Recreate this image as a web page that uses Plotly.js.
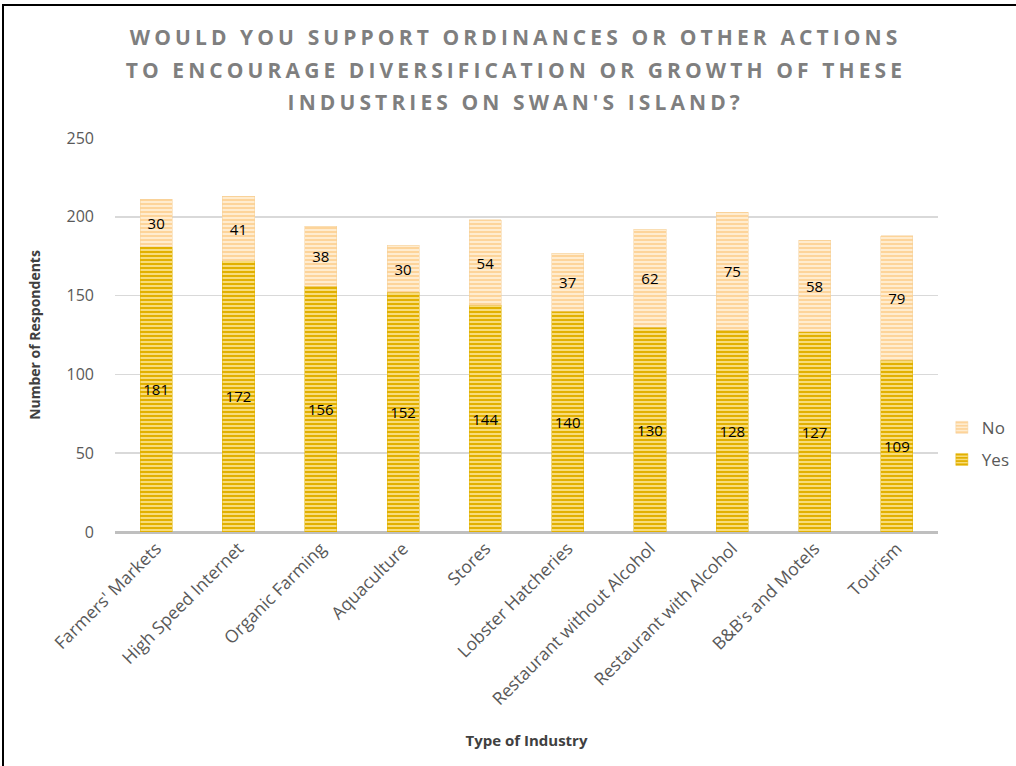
<!DOCTYPE html>
<html>
<head>
<meta charset="utf-8">
<script src="https://cdn.plot.ly/plotly-3.0.1.min.js"></script>
<style>
html,body{margin:0;padding:0;background:#fff;overflow:hidden;}
#chart{width:1016px;height:766px;}
#frame{position:absolute;left:2px;top:4px;width:1030px;height:780px;border:2px solid #000;pointer-events:none;}
#chart .annotation-text{letter-spacing:4.1px;}
</style>
</head>
<body>
<div id="chart"></div>
<div id="frame"></div>
<script>
const categories = ["Farmers' Markets","High Speed Internet","Organic Farming","Aquaculture","Stores","Lobster Hatcheries","Restaurant without Alcohol","Restaurant with Alcohol","B&B's and Motels","Tourism"];
const yesValues = [181,172,156,152,144,140,130,128,127,109];
const noValues = [30,41,38,30,54,37,62,75,58,79];
const yTicks = [0,50,100,150,200,250];
const titleLines = ["WOULD YOU SUPPORT ORDINANCES OR OTHER ACTIONS","TO ENCOURAGE DIVERSIFICATION OR GROWTH OF THESE","INDUSTRIES ON SWAN'S ISLAND?"];

const font = "'Open Sans', 'Liberation Sans', sans-serif";

const traces = [
  {
    type:'bar', name:'Yes', x:categories, y:yesValues, legendgroup:'yes', legendrank:2,
    text:yesValues.map(String), textposition:'inside', insidetextanchor:'middle',
    textangle:0, constraintext:'none',
    textfont:{family:font,size:15,color:'#000'},
    marker:{color:'#f7d56a', line:{color:'#e0b100',width:0.5},
      pattern:{shape:'-', fgcolor:'#e2b000', bgcolor:'#f8dc7a', size:4, solidity:0.5}},
    hoverinfo:'x+y'
  },
  {
    type:'bar', name:'No', x:categories, y:noValues, legendgroup:'no', legendrank:1,
    text:noValues.map(String), textposition:'inside', insidetextanchor:'middle',
    textangle:0, constraintext:'none',
    textfont:{family:font,size:15,color:'#000'},
    marker:{color:'#ffe3b8', line:{color:'#f5cf98',width:0.5},
      pattern:{shape:'-', fgcolor:'#fdd49a', bgcolor:'#ffeccf', size:4, solidity:0.5}},
    hoverinfo:'x+y'
  }
];

const titleY = [1.2563, 1.1726, 1.0914];
const annotations = titleLines.map((t,i) => ({
  text:t, xref:'paper', yref:'paper', x:0.487, y:titleY[i],
  xanchor:'center', yanchor:'middle', showarrow:false,
  font:{family:font, size:21, color:'#7f7f7f', weight:'bold'}
}));

const layout = {
  barmode:'stack', bargap:0.61,
  width:1016, height:766,
  paper_bgcolor:'#fff', plot_bgcolor:'#fff',
  margin:{l:115, r:78, t:138, b:234},
  annotations:annotations,
  xaxis:{
    tickangle:-45, tickfont:{family:font,size:17.5,color:'#595959'},
    showgrid:false, showline:false, ticks:'', ticklabelstandoff:2,
    title:{text:'Type of Industry', font:{family:font,size:15,color:'#404040',weight:'bold'}, standoff:26}
  },
  yaxis:{
    range:[0,250], tickvals:yTicks, ticktext:yTicks.map(String),
    tickfont:{family:font,size:16,color:'#595959'},
    gridcolor:'#d9d9d9', gridwidth:1.5, zeroline:true, zerolinecolor:'#bfbfbf', zerolinewidth:3,
    showline:false, ticks:'', ticklen:0, ticklabelstandoff:20,
    title:{text:'Number of Respondents', font:{family:font,size:14,color:'#404040',weight:'bold'}, standoff:22}
  },
  legend:{
    xref:'container', yref:'container',
    x:0.927, y:0.465, xanchor:'left', yanchor:'top',
    font:{family:font,size:17,color:'#595959'},
    traceorder:'grouped', tracegroupgap:7, itemwidth:30, bgcolor:'rgba(0,0,0,0)'
  },
  showlegend:true
};

Plotly.newPlot('chart', traces, layout, {displayModeBar:false, staticPlot:true});
</script>
</body>
</html>
